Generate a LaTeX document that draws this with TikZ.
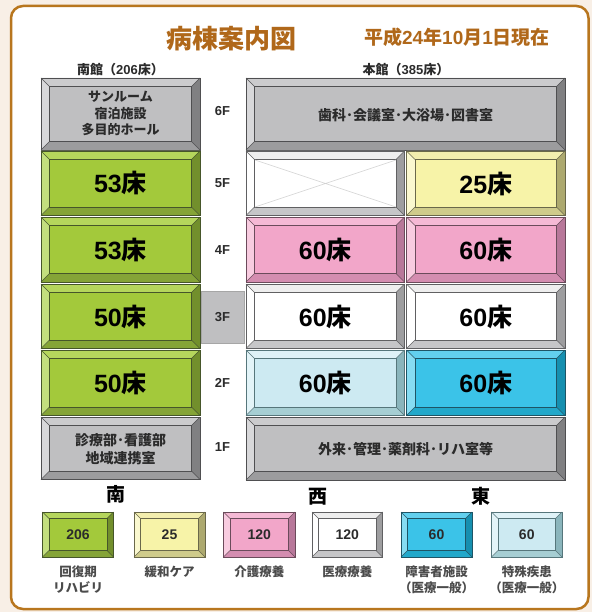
\documentclass[tikz,border=0pt]{standalone}
\usepackage{fontspec}
\setmainfont{Noto Sans CJK JP}
\newfontfamily\ltnfont{Liberation Sans}
\newcommand\ltn[1]{{\ltnfont #1}}
\definecolor{bgc}{HTML}{F8EFE6}
\definecolor{framec}{HTML}{B8761E}
\definecolor{titlec}{HTML}{B0681A}
\definecolor{txtc}{HTML}{2B2B2B}
% schemes: F face, T top, L left, R right, B bottom, D outline
\definecolor{grnF}{HTML}{A3C93B}\definecolor{grnT}{HTML}{B5D65C}\definecolor{grnL}{HTML}{C3DF7E}\definecolor{grnR}{HTML}{728F2C}\definecolor{grnB}{HTML}{85A437}\definecolor{grnD}{HTML}{46562A}
\definecolor{gryF}{HTML}{BFBFC1}\definecolor{gryT}{HTML}{CBCBCD}\definecolor{gryL}{HTML}{D8D8DA}\definecolor{gryR}{HTML}{808082}\definecolor{gryB}{HTML}{9C9C9E}\definecolor{gryD}{HTML}{4F4F51}
\definecolor{pnkF}{HTML}{F2A6C9}\definecolor{pnkT}{HTML}{F5B9D5}\definecolor{pnkL}{HTML}{F8CCE0}\definecolor{pnkR}{HTML}{B8789A}\definecolor{pnkB}{HTML}{D48DB0}\definecolor{pnkD}{HTML}{6B4B5B}
\definecolor{ylwF}{HTML}{F7F3A8}\definecolor{ylwT}{HTML}{F3EEAE}\definecolor{ylwL}{HTML}{FAF8CF}\definecolor{ylwR}{HTML}{ADA96F}\definecolor{ylwB}{HTML}{CFCB8B}\definecolor{ylwD}{HTML}{6A684A}
\definecolor{whtF}{HTML}{FFFFFF}\definecolor{whtT}{HTML}{EEEEEE}\definecolor{whtL}{HTML}{FFFFFF}\definecolor{whtR}{HTML}{9E9EA0}\definecolor{whtB}{HTML}{C6C6C8}\definecolor{whtD}{HTML}{606062}
\definecolor{lblF}{HTML}{CDEAF2}\definecolor{lblT}{HTML}{DFF2F7}\definecolor{lblL}{HTML}{E3F4F8}\definecolor{lblR}{HTML}{8AB5BC}\definecolor{lblB}{HTML}{A6CED3}\definecolor{lblD}{HTML}{56767B}
\definecolor{bluF}{HTML}{3BC3E8}\definecolor{bluT}{HTML}{62D0EE}\definecolor{bluL}{HTML}{86DCF2}\definecolor{bluR}{HTML}{1690B0}\definecolor{bluB}{HTML}{22A8CA}\definecolor{bluD}{HTML}{1E5566}
% bevelled block: x1 y1 x2 y2 scheme bevel
\newcommand\bevblk[6]{%
  \fill[#5T] (#1,#2) -- (#3,#2) -- ({#3-#6},{#2+#6}) -- ({#1+#6},{#2+#6}) -- cycle;
  \fill[#5B] (#1,#4) -- (#3,#4) -- ({#3-#6},{#4-#6}) -- ({#1+#6},{#4-#6}) -- cycle;
  \fill[#5L] (#1,#2) -- ({#1+#6},{#2+#6}) -- ({#1+#6},{#4-#6}) -- (#1,#4) -- cycle;
  \fill[#5R] (#3,#2) -- ({#3-#6},{#2+#6}) -- ({#3-#6},{#4-#6}) -- (#3,#4) -- cycle;
  \fill[#5F] ({#1+#6},{#2+#6}) rectangle ({#3-#6},{#4-#6});
  \draw[#5D, line width=0.7pt] (#1,#2) rectangle (#3,#4);
  \draw[#5D, line width=0.9pt] ({#1+#6},{#2+#6}) rectangle ({#3-#6},{#4-#6});
  \draw[#5D, line width=0.5pt] (#1,#2) -- ({#1+#6},{#2+#6}) (#3,#2) -- ({#3-#6},{#2+#6})
     (#1,#4) -- ({#1+#6},{#4-#6}) (#3,#4) -- ({#3-#6},{#4-#6});
}
\tikzset{
  bignum/.style={font=\fontsize{25}{28}\selectfont\bfseries, text=black, inner sep=0pt},
  graytxt/.style={font=\fontsize{14}{18}\selectfont\bfseries, text=txtc, align=center, inner sep=0pt},
  smallgray/.style={graytxt, font=\fontsize{13}{16.5}\selectfont\bfseries},
  floorlbl/.style={font=\ltnfont\fontsize{13}{14}\selectfont\bfseries, text=txtc, inner sep=0pt},
  headlbl/.style={font=\fontsize{13}{15}\selectfont\bfseries, text=txtc, inner sep=0pt},
  dirlbl/.style={font=\fontsize{19}{21}\selectfont\bfseries, text=black, inner sep=0pt},
  legnum/.style={font=\ltnfont\fontsize{14}{16}\selectfont\bfseries, text=txtc, inner sep=0pt},
  leglbl/.style={font=\fontsize{12.5}{16}\selectfont\bfseries, text=txtc!85!white, align=center, inner sep=0pt},
  xline/.style={draw=black!18, line width=0.6pt}
}
\begin{document}
\begin{tikzpicture}[x=1pt,y=-1pt]
\useasboundingbox (0,0) rectangle (592,612);
\fill[bgc] (0,0) rectangle (592,612);
\draw[framec, line width=2.5pt, fill=white, rounded corners=12pt] (11,6) rectangle (588.5,609);

% title
\node[font=\fontsize{26}{30}\selectfont\bfseries, text=titlec, inner sep=0pt] (title) at (231,38.5) {病棟案内図};
\node[font=\fontsize{19}{22}\selectfont\bfseries, text=titlec, inner sep=0pt] (date) at (457,37) {平成\ltn{24}年\ltn{10}月\ltn{1}日現在};

\node[headlbl] (southhead) at (120.5,70) {南館（\ltn{206}床）};
\node[headlbl] (mainhead) at (406,70) {本館（\ltn{385}床）};

% south building
\bevblk{41}{78}{200}{150}{gry}{8.5}
\node[smallgray] (s6) at (120.5,113.5) {サンルーム\\宿泊施設\\多目的ホール};
\bevblk{41}{151}{200}{215.5}{grn}{8.5}
\node[bignum] (s5) at (120.5,183.5) {\ltn{53}床};
\bevblk{41}{217}{200}{282}{grn}{8.5}
\node[bignum] (s4) at (120.5,250) {\ltn{53}床};
\bevblk{41}{284}{200}{348.5}{grn}{8.5}
\node[bignum] (s3) at (120.5,316.5) {\ltn{50}床};
\bevblk{41}{350}{200}{415.5}{grn}{8.5}
\node[bignum] (s2) at (120.5,383) {\ltn{50}床};
\bevblk{41}{417}{200}{479.5}{gry}{8.5}
\node[graytxt] (s1) at (120.5,449.5) {診療部･看護部\\地域連携室};

% floor labels
\fill[gryF] (201,291) rectangle (244,343);
\draw[black!35, line width=0.8pt] (201,291) rectangle (244,343);
\node[floorlbl] (f6) at (222.5,111) {6F};
\node[floorlbl] (f5) at (222.5,183.5) {5F};
\node[floorlbl] (f4) at (222.5,250) {4F};
\node[floorlbl] (f3) at (222.5,317) {3F};
\node[floorlbl] (f2) at (222.5,383) {2F};
\node[floorlbl] (f1) at (222.5,447) {1F};

% main building
\bevblk{246}{78}{565}{150}{gry}{8.5}
\node[graytxt] (m6) at (405.5,115) {歯科･会議室･大浴場･図書室};
\bevblk{246}{151}{404.5}{215.5}{wht}{8.5}
\draw[xline] (255,160) -- (396,207) (255,207) -- (396,160);
\bevblk{406.5}{151}{565}{215.5}{ylw}{8.5}
\node[bignum] (e5) at (485.75,184) {\ltn{25}床};
\bevblk{246}{217}{404.5}{282}{pnk}{8.5}
\node[bignum] (w4) at (325.25,250) {\ltn{60}床};
\bevblk{406.5}{217}{565}{282}{pnk}{8.5}
\node[bignum] (e4) at (485.75,250) {\ltn{60}床};
\bevblk{246}{284}{404.5}{348.5}{wht}{8.5}
\node[bignum] (w3) at (325.25,316.5) {\ltn{60}床};
\bevblk{406.5}{284}{565}{348.5}{wht}{8.5}
\node[bignum] (e3) at (485.75,316.5) {\ltn{60}床};
\bevblk{246}{350}{404.5}{415.5}{lbl}{8.5}
\node[bignum] (w2) at (325.25,383) {\ltn{60}床};
\bevblk{406.5}{350}{565}{415.5}{blu}{8.5}
\node[bignum] (e2) at (485.75,383) {\ltn{60}床};
\bevblk{246}{417}{565}{480}{gry}{8.5}
\node[graytxt] (m1) at (405.5,449) {外来･管理･薬剤科･リハ室等};

% directions
\node[dirlbl] (dS) at (116,494) {南};
\node[dirlbl] (dW) at (318,496.5) {西};
\node[dirlbl] (dE) at (480.5,496.5) {東};

% legend
\bevblk{42.5}{512}{113.5}{557}{grn}{6.5}
\node[legnum] (l1) at (78,535) {206};
\node[leglbl] (t1) at (78,580) {回復期\\リハビリ};
\bevblk{134}{512}{205}{557}{ylw}{6.5}
\node[legnum] (l2) at (169.5,535) {25};
\node[leglbl] (t2) at (169.5,572) {緩和ケア};
\bevblk{223.5}{512}{295}{557}{pnk}{6.5}
\node[legnum] (l3) at (259.25,535) {120};
\node[leglbl] (t3) at (259.25,572) {介護療養};
\bevblk{312}{512}{382.5}{557}{wht}{6.5}
\node[legnum] (l4) at (347.25,535) {120};
\node[leglbl] (t4) at (347.25,572) {医療療養};
\bevblk{401}{512}{472}{557}{blu}{6.5}
\node[legnum] (l5) at (436.5,535) {60};
\node[leglbl] (t5) at (436.5,580) {障害者施設\\（医療一般）};
\bevblk{491.5}{512}{562}{557}{lbl}{6.5}
\node[legnum] (l6) at (526.75,535) {60};
\node[leglbl] (t6) at (526.75,580) {特殊疾患\\（医療一般）};
\end{tikzpicture}
\end{document}
